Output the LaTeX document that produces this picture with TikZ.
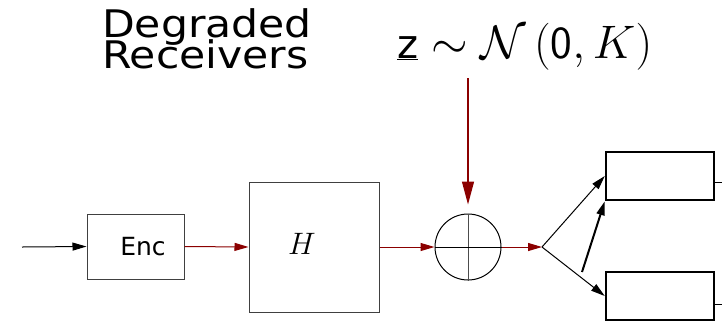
\RequirePackage{fix-cm}
\documentclass[tikz,border=0pt]{standalone}
\usepackage{fontspec}
\setmainfont{DejaVu Sans}
\newfontfamily\degfont[FakeStretch=1.12]{DejaVu Sans}
\usetikzlibrary{arrows.meta}
\definecolor{dred}{RGB}{139,0,0}
\begin{document}
\begin{tikzpicture}[x=1pt,y=1pt,
  thinbox/.style={draw=black!75,line width=1pt,rectangle,inner sep=0pt},
  rxbox/.style={draw=black,line width=2.5pt,rectangle,inner sep=0pt,minimum width=108pt,minimum height=48pt},
  redarr/.style={draw=dred,line width=1pt,-{Triangle[length=14pt,width=8pt]}},
  blkarr/.style={draw=black,line width=1pt,-{Triangle[length=14pt,width=8pt]}},
  lbl/.style={inner sep=0pt},
  deglbl/.style={inner sep=0pt,anchor=base west,font=\degfont\fontsize{38}{40}\selectfont}]
\useasboundingbox (0,0) rectangle (722,-325);
% nodes
\node[thinbox,minimum width=97pt,minimum height=65pt] (enc) at (135.5,-246.5) {};
\node[lbl,font=\fontsize{25}{28}\selectfont] (enct) at (143,-247) {Enc};
\node[thinbox,minimum width=130pt,minimum height=130pt] (H) at (314,-247) {};
\node[lbl,font=\fontsize{31}{34}\selectfont] (Ht) at (302,-244) {$H$};
\node[circle,draw=black,line width=1pt,minimum size=66pt,inner sep=0pt] (sum) at (468,-247) {};
\coordinate (in) at (22,-247);
\coordinate (br) at (542,-247);
\node[rxbox] (rx1) at (660,-176) {};
\node[rxbox] (rx2) at (660,-296) {};
\coordinate (ts) at (582,-272);
\coordinate (s1) at (722,-182);
\coordinate (s2) at (722,-304);
\node[deglbl] (deg1) at (102,-37) {Degraded};
\node[deglbl] (deg2) at (102,-68) {Receivers};
\node[lbl,font=\fontsize{47}{50}\selectfont,anchor=base west] (z) at (397,-58) {$\underline{\hbox{\fontsize{40}{42}\selectfont z}}\sim\mathcal{N}\left(\hbox{\sffamily\fontsize{46}{48}\selectfont 0},K\right)$};
\coordinate (ztop) at (468,-78);
% plus
\draw[black!70,line width=1pt] (sum.north) -- (sum.south);
\draw[black,line width=1pt] (sum.west) -- (sum.east);
% connectors
\draw[blkarr] (in) -- (enc.west);
\draw[redarr] (enc.east) -- (H.west);
\draw[redarr] (H.east) -- (sum.west);
\draw[redarr] (sum.east) -- (br);
\draw[draw=dred,line width=1.2pt,-{Triangle[length=23pt,width=12pt]}] (ztop) -- ([yshift=9pt]sum.north);
\draw[blkarr] (br) -- (rx1.west);
\draw[blkarr] (br) -- (rx2.west);
\draw[draw=black,line width=2pt,-{Triangle[length=14pt,width=8pt]}] (ts) -- (rx1.south west);
\draw[black,line width=1pt] (rx1.east |- s1) -- (s1);
\draw[black,line width=1pt] (rx2.east |- s2) -- (s2);
\end{tikzpicture}
\end{document}
